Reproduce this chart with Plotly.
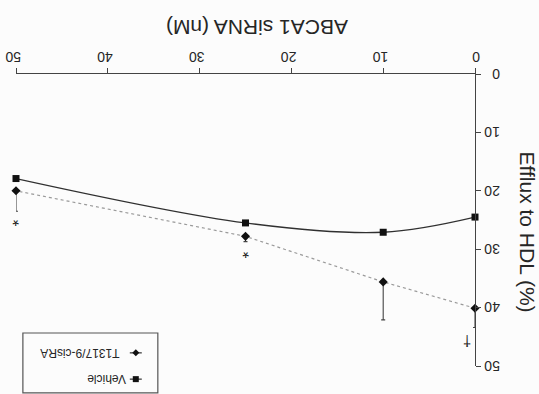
import plotly.graph_objects as go

# ABCA1 siRNA dose (nM) and cholesterol efflux to HDL (%)
siRNA_nM = [0, 10, 25, 50]
vehicle_efflux = [24.5, 27.1, 25.5, 17.9]
t1317_efflux = [40.1, 35.6, 27.8, 20.0]
t1317_err_up = [3.3, 6.5, 0.9, 3.5]
t1317_err_down = [0, 0, 0, 0]

series_names = ["Vehicle", "T1317/9-cisRA"]
tick_values = [0, 10, 20, 30, 40, 50]
tick_labels = ["0", "10", "20", "30", "40", "50"]

# significance marks
star_x = [25, 50]
star_y = [30.5, 25.0]
dagger_x = 0.8
dagger_y = 45.7

INK = "#262626"
FONT = "Liberation Sans, Arial, sans-serif"

fig = go.Figure()

fig.add_trace(go.Scatter(
    x=siRNA_nM, y=vehicle_efflux, name=series_names[0],
    mode="lines+markers",
    line=dict(color="#303030", width=1.3, shape="spline", smoothing=1.0),
    marker=dict(symbol="square", size=7, color="#111111"),
    cliponaxis=False, showlegend=False,
))

fig.add_trace(go.Scatter(
    x=siRNA_nM, y=t1317_efflux, name=series_names[1],
    mode="lines+markers",
    line=dict(color="#9a9a9a", width=1.2, dash="dot"),
    marker=dict(symbol="diamond", size=7, color="#111111"),
    error_y=dict(type="data", symmetric=False, array=t1317_err_up,
                 arrayminus=t1317_err_down, color="#444444",
                 thickness=1.1, width=2),
    cliponaxis=False, showlegend=False,
))

# hand-built legend box (paper units; 1 px = 1/459 in x, 1/292 in y)
PX_X = 1 / 459
PX_Y = 1 / 292
leg_sym_x = 0.261
leg_rows = [-0.045, 0.045]          # Vehicle row, T1317 row
leg_text_x = [0.196, 0.139]

shapes = [
    dict(type="rect", xref="paper", yref="paper",
         x0=0.015, x1=0.309, y0=-0.092, y1=0.113,
         line=dict(color="#555555", width=1.2), fillcolor="rgba(0,0,0,0)"),
]
for yy in leg_rows:
    shapes.append(dict(type="line", xref="paper", yref="paper",
                       x0=leg_sym_x - 6 * PX_X, x1=leg_sym_x + 6 * PX_X,
                       y0=yy, y1=yy, line=dict(color="#333333", width=1.2)))
# square sample for Vehicle
shapes.append(dict(type="rect", xref="paper", yref="paper",
                   x0=leg_sym_x - 3 * PX_X, x1=leg_sym_x + 3 * PX_X,
                   y0=leg_rows[0] - 3 * PX_Y, y1=leg_rows[0] + 3 * PX_Y,
                   line=dict(width=0), fillcolor="#111111"))
# diamond sample for T1317/9-cisRA
cx, cy, dx, dy = leg_sym_x, leg_rows[1], 3.5 * PX_X, 3.5 * PX_Y
shapes.append(dict(type="path", xref="paper", yref="paper",
                   path=f"M {cx - dx} {cy} L {cx} {cy + dy} L {cx + dx} {cy} L {cx} {cy - dy} Z",
                   line=dict(width=0), fillcolor="#111111"))

annotations = []
for name, tx, yy in zip(series_names, leg_text_x, leg_rows):
    annotations.append(dict(
        xref="paper", yref="paper", x=tx, y=yy, text=name,
        showarrow=False, textangle=180, xanchor="center", yanchor="middle",
        font=dict(family=FONT, size=12, color=INK),
    ))

for sx, sy in zip(star_x, star_y):
    annotations.append(dict(
        x=sx, y=sy, text="*", showarrow=False, textangle=180,
        font=dict(family=FONT, size=17, color="#222222"),
    ))
annotations.append(dict(
    x=dagger_x, y=dagger_y, text="\u2020", showarrow=False, textangle=180,
    font=dict(family=FONT, size=15, color="#222222"),
))

# axis titles
annotations.append(dict(
    xref="paper", yref="paper", x=0.525, y=1.205, text="ABCA1 siRNA (nM)",
    showarrow=False, textangle=180,
    font=dict(family=FONT, size=21, color=INK),
))
annotations.append(dict(
    xref="paper", yref="paper", x=1.143, y=0.46, text="Efflux to HDL (%)",
    showarrow=False, textangle=90,
    font=dict(family=FONT, size=21, color=INK),
))

axis_common = dict(
    showgrid=False, zeroline=False, showline=True, linecolor="#444444",
    linewidth=1.2, ticks="outside", ticklen=5, tickwidth=1.1, automargin=False,
    tickcolor="#444444", tickvals=tick_values, ticktext=tick_labels,
    tickangle=180, tickfont=dict(family=FONT, size=14, color=INK),
)

fig.update_layout(
    width=539, height=394,
    margin=dict(l=16, r=64, t=74, b=28),
    paper_bgcolor="#fcfcfc", plot_bgcolor="#fcfcfc",
    xaxis=dict(range=[50, 0], side="top", ticklabelstandoff=-4,
               ticklabelshift=-5, **axis_common),
    yaxis=dict(range=[50, 0], side="right", ticklabelstandoff=16,
               ticklabelshift=-4, **axis_common),
    shapes=shapes, annotations=annotations,
)

fig.write_html("out.html")
